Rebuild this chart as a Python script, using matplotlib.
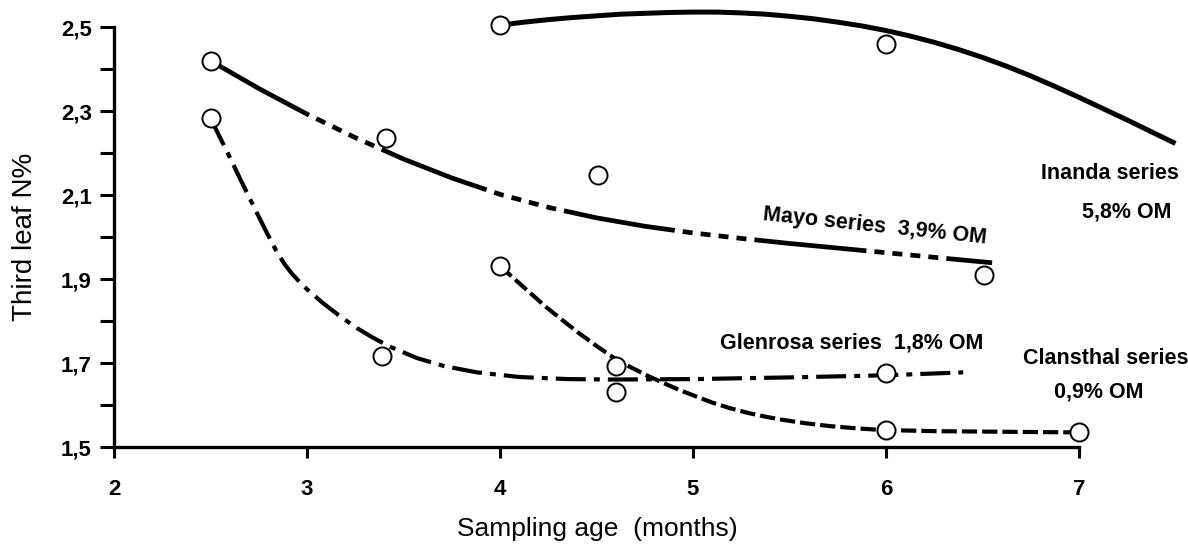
import matplotlib.pyplot as plt

plt.rcParams['font.family'] = ['Liberation Sans', 'DejaVu Sans']
plt.rcParams['lines.scale_dashes'] = False

# measured points (sampling age in months, third leaf N%)
inanda_x = [4.0, 6.0]
inanda_y = [2.505, 2.46]
mayo_x = [2.5, 3.41, 4.51, 6.51]
mayo_y = [2.42, 2.236, 2.148, 1.91]
glenrosa_x = [2.5, 3.39, 4.6, 6.0]
glenrosa_y = [2.283, 1.718, 1.693, 1.676]
clansthal_x = [4.0, 4.6, 6.0, 7.0]
clansthal_y = [1.931, 1.631, 1.54, 1.537]

# fitted curves
inanda_cx = [4.0, 4.125, 4.25, 4.375, 4.5, 4.625, 4.75, 4.875, 5.0, 5.125, 5.25,
             5.375, 5.5, 5.625, 5.75, 5.875, 6.0, 6.125, 6.25, 6.375, 6.5, 6.625,
             6.75, 6.875, 7.0, 7.125, 7.25, 7.375, 7.5]
inanda_cy = [2.505, 2.512, 2.518, 2.523, 2.527, 2.531, 2.533, 2.535, 2.536, 2.536, 2.534,
             2.531, 2.526, 2.520, 2.512, 2.503, 2.492, 2.479, 2.464, 2.447, 2.428, 2.407,
             2.384, 2.359, 2.333, 2.306, 2.279, 2.251, 2.223]
mayo_cx = [2.5, 2.75, 3.0, 3.25, 3.5, 3.75, 4.0, 4.25, 4.5, 4.75, 5.0, 5.25, 5.5,
           5.75, 6.0, 6.25, 6.55]
mayo_cy = [2.42, 2.354, 2.293, 2.237, 2.186, 2.141, 2.102, 2.071, 2.046, 2.026, 2.010,
           1.997, 1.985, 1.974, 1.963, 1.952, 1.939]
glenrosa_cx = [2.5, 2.53, 2.6, 2.65, 2.74, 2.79, 2.84, 2.88, 2.92, 2.96, 3.0, 3.08,
               3.17, 3.26, 3.34, 3.43, 3.57, 3.71, 3.88, 4.1, 4.35, 4.6, 5.0, 5.5,
               6.0, 6.4]
glenrosa_cy = [2.283, 2.255, 2.19, 2.142, 2.058, 2.012, 1.968, 1.938, 1.914, 1.894,
               1.876, 1.844, 1.812, 1.783, 1.761, 1.739, 1.712, 1.693, 1.678, 1.667,
               1.662, 1.661, 1.662, 1.666, 1.671, 1.678]
clansthal_cx = [4.0, 4.12, 4.24, 4.33, 4.41, 4.5, 4.585, 4.67, 4.76, 4.85, 4.93, 5.02,
                5.10, 5.19, 5.28, 5.37, 5.45, 5.58, 5.71, 5.84, 5.97, 6.25, 6.5, 7.0]
clansthal_cy = [1.931, 1.882, 1.833, 1.8, 1.771, 1.741, 1.714, 1.692, 1.671, 1.652,
                1.636, 1.62, 1.606, 1.593, 1.582, 1.573, 1.566, 1.557, 1.550, 1.545,
                1.541, 1.538, 1.537, 1.535]

x_ticks = [2, 3, 4, 5, 6, 7]
y_ticks = [1.5, 1.7, 1.9, 2.1, 2.3, 2.5]
y_minor = [1.6, 1.8, 2.0, 2.2, 2.4]
y_labels = ['1,5', '1,7', '1,9', '2,1', '2,3', '2,5']

fig = plt.figure(figsize=(11.88, 5.52), dpi=100)
ax = fig.add_axes([0.096, 0.190, 0.904, 0.806])

ax.plot(inanda_cx, inanda_cy, color='black', lw=3.6, solid_capstyle='butt')
ax.plot(mayo_cx, mayo_cy, color='black', lw=3.4, dash_capstyle='butt',
        dashes=[81, 5.8, 7.2, 5.8, 7.2, 5.8, 7.2, 5.8, 7.2, 5.8])
ax.plot(glenrosa_cx, glenrosa_cy, color='black', lw=3.0, dash_capstyle='butt',
        dashes=[21.6, 5.8, 4.3, 5.8])
ax.plot(clansthal_cx, clansthal_cy, color='black', lw=3.0, dash_capstyle='butt',
        dashes=[11, 3.6])

for xs, ys in [(inanda_x, inanda_y), (mayo_x, mayo_y),
               (glenrosa_x, glenrosa_y), (clansthal_x, clansthal_y)]:
    ax.plot(xs, ys, 'o', ms=13, mfc='white', mec='black', mew=1.4, zorder=5)

txt = dict(fontsize=15.5, fontweight='bold', ha='center', va='center')
ax.text(7.16, 2.152, 'Inanda series', **txt)
ax.text(7.25, 2.06, '5,8% OM', **txt)
ax.text(5.94, 2.026, 'Mayo series  3,9% OM', rotation=-6, **txt)
ax.text(5.82, 1.748, 'Glenrosa series  1,8% OM', **txt)
ax.text(7.14, 1.712, 'Clansthal series', **txt)
ax.text(7.10, 1.631, '0,9% OM', **txt)

ax.set_xlim(2, 7.565)
ax.set_ylim(1.5, 2.5595)
ax.spines['top'].set_visible(False)
ax.spines['right'].set_visible(False)
ax.spines['left'].set_bounds(1.5, 2.5)
ax.spines['bottom'].set_bounds(2, 7)
ax.spines['left'].set_linewidth(2.4)
ax.spines['bottom'].set_linewidth(2.4)

ax.set_xticks(x_ticks)
ax.set_xticklabels([str(v) for v in x_ticks], fontsize=16, fontweight='bold')
ax.set_yticks(y_ticks)
ax.set_yticklabels(y_labels, fontsize=16, fontweight='bold')
ax.set_yticks(y_minor, minor=True)
ax.tick_params(axis='x', length=8, width=2.2, pad=15)
ax.tick_params(axis='y', which='both', length=10, width=2.2, pad=6)

ax.set_xlabel('Sampling age  (months)', fontsize=19, va='center')
ax.xaxis.set_label_coords(0.45, -0.185)
ax.set_ylabel('Third leaf N%', fontsize=20, va='center')
ax.yaxis.set_label_coords(-0.083, 0.472)

fig.savefig('out.png', dpi=100)
